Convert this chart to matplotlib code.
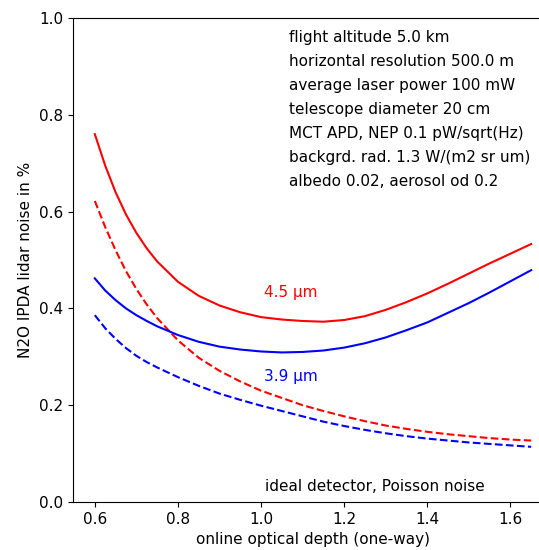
import matplotlib
matplotlib.use("Agg")
import matplotlib.pyplot as plt

plt.rcParams['font.size'] = 11

# online optical depth grid
od = [0.600, 0.625, 0.650, 0.675, 0.700, 0.725, 0.75, 0.80, 0.85, 0.90, 0.95, 1.00, 1.05, 1.10,
      1.15, 1.20, 1.25, 1.30, 1.35, 1.40, 1.45, 1.50, 1.55, 1.60, 1.65]

# noise in % (solid: MCT APD, dashed: ideal detector)
noise_45 = [0.760, 0.695, 0.640, 0.594, 0.556, 0.524, 0.497, 0.455, 0.426, 0.406, 0.392, 0.382, 0.377, 0.374,
            0.3725, 0.376, 0.384, 0.397, 0.413, 0.431, 0.451, 0.472, 0.493, 0.513, 0.533]
noise_39 = [0.462, 0.437, 0.417, 0.400, 0.386, 0.374, 0.363, 0.345, 0.331, 0.321, 0.315, 0.311, 0.309, 0.310,
            0.313, 0.319, 0.328, 0.340, 0.355, 0.371, 0.391, 0.411, 0.433, 0.456, 0.479]
ideal_45 = [0.622, 0.568, 0.520, 0.477, 0.440, 0.408, 0.380, 0.334, 0.298, 0.271, 0.249, 0.230, 0.215, 0.200,
            0.188, 0.177, 0.167, 0.158, 0.151, 0.145, 0.140, 0.136, 0.132, 0.129, 0.127]
ideal_39 = [0.386, 0.359, 0.337, 0.318, 0.302, 0.289, 0.278, 0.258, 0.240, 0.224, 0.211, 0.199, 0.188, 0.177,
            0.166, 0.157, 0.149, 0.142, 0.136, 0.131, 0.127, 0.123, 0.120, 0.117, 0.114]

params = ["flight altitude 5.0 km",
          "horizontal resolution 500.0 m",
          "average laser power 100 mW",
          "telescope diameter 20 cm",
          "MCT APD, NEP 0.1 pW/sqrt(Hz)",
          "backgrd. rad. 1.3 W/(m2 sr um)",
          "albedo 0.02, aerosol od 0.2"]

fig = plt.figure(figsize=(5.39, 5.5), dpi=100)
# axes runs past the right edge like the cropped original
ax = fig.add_axes([73 / 539, 48 / 550, 480 / 539, 484 / 550])

ax.plot(od, noise_45, 'r-', lw=1.5)
ax.plot(od, ideal_45, 'r--', lw=1.5)
ax.plot(od, noise_39, 'b-', lw=1.5)
ax.plot(od, ideal_39, 'b--', lw=1.5)

ax.set_xlim(0.5475, 1.7025)
ax.set_ylim(0, 1.0)
ax.set_xticks([0.6, 0.8, 1.0, 1.2, 1.4, 1.6])
ax.set_yticks([0.0, 0.2, 0.4, 0.6, 0.8, 1.0])
ax.set_xlabel("online optical depth (one-way)")
ax.set_ylabel("N2O IPDA lidar noise in %")

for i, s in enumerate(params):
    ax.text(1.067, 0.959 - i * 0.0496, s, va='center', ha='left')

ax.text(1.007, 0.432, "4.5 µm", color='r', va='center')
ax.text(1.007, 0.260, "3.9 µm", color='b', va='center')
ax.text(1.009, 0.031, "ideal detector, Poisson noise", va='center')

fig.savefig("out.png", dpi=100)
